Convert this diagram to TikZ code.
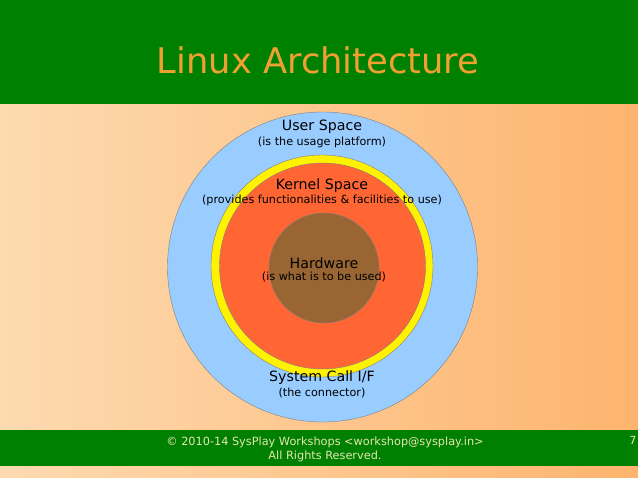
\documentclass[tikz,border=0pt]{standalone}
\usepackage{fontspec}
\setmainfont{DejaVu Sans}
\definecolor{hdr}{HTML}{008000}
\definecolor{bgl}{HTML}{FDDAB0}
\definecolor{bgr}{HTML}{FDB46E}
\definecolor{ttl}{HTML}{F0A030}
\definecolor{foot}{HTML}{E6E6B0}
\definecolor{usr}{HTML}{99CCFF}
\definecolor{ker}{HTML}{FF6633}
\definecolor{hw}{HTML}{996633}
\tikzset{big/.style={font=\fontsize{14.2}{16}\selectfont},sm/.style={font=\fontsize{11.2}{13}\selectfont}}
\begin{document}
\begin{tikzpicture}[x=1pt,y=-1pt]
\useasboundingbox (0,0) rectangle (638,478);
\shade[left color=bgl,right color=bgr] (0,0) rectangle (638,478);
\fill[hdr] (0,0) rectangle (638,104);
\node[text=ttl,font=\fontsize{35.3}{40}\selectfont] (title) at (318,60) {Linux Architecture};
\fill[hdr] (0,430) rectangle (638,466);
\node[text=foot,font=\fontsize{11.3}{14.5}\selectfont,align=center] (foot) at (325,449.5) {© 2010-14 SysPlay Workshops <workshop@sysplay.in>\\All Rights Reserved.};
\node[text=foot,sm] (pg) at (633,440) {7};
\draw[gray,fill=usr] (322.5,267) circle (155);
\draw[gray,fill=yellow] (322,266) circle (111);
\draw[gray,fill=ker] (322.5,266) circle (103);
\draw[gray,fill=hw] (324,268) circle (55);
\node[big] (us) at (322,127) {User Space};
\node[sm] (usd) at (322,142) {(is the usage platform)};
\node[big] (ks) at (322,186) {Kernel Space};
\node[sm] (ksd) at (322,200) {(provides functionalities \& facilities to use)};
\node[big] (hwt) at (324,263) {Hardware};
\node[sm] (hwd) at (324,277) {(is what is to be used)};
\node[big] (sc) at (322,378) {System Call I/F};
\node[sm] (scd) at (322,393) {(the connector)};
\end{tikzpicture}
\end{document}
